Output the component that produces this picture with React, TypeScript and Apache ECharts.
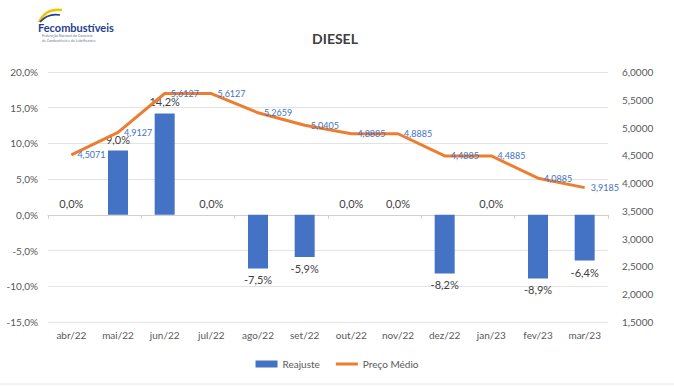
import React, { useEffect, useRef } from "react";
import * as echarts from "echarts";

const categories = ["abr/22", "mai/22", "jun/22", "jul/22", "ago/22", "set/22", "out/22", "nov/22", "dez/22", "jan/23", "fev/23", "mar/23"];
const reajuste = [0.0, 9.0, 14.2, 0.0, -7.5, -5.9, 0.0, 0.0, -8.2, 0.0, -8.9, -6.4];
const precoMedio = [4.5071, 4.9127, 5.6127, 5.6127, 5.2659, 5.0405, 4.8885, 4.8885, 4.4885, 4.4885, 4.0885, 3.9185];

const FONT = "Lato, 'Open Sans', 'Liberation Sans', sans-serif";
const fmtPct = (v: number) => v.toFixed(1).replace(".", ",") + "%";
const fmtPrice = (v: number) => v.toFixed(4).replace(".", ",");

export default function App() {
  const ref = useRef<HTMLDivElement>(null);
  useEffect(() => {
    if (!ref.current) return;
    const chart = echarts.init(ref.current, undefined, { renderer: "svg" });
    chart.setOption({
      animation: false,
      backgroundColor: "#ffffff",
      textStyle: { fontFamily: FONT },
      title: {
        text: "DIESEL",
        left: 330,
        top: 26,
        textAlign: "center",
        textStyle: { fontSize: 14, fontWeight: "bold", color: "#404040", fontFamily: FONT },
      },
      legend: {
        bottom: 12,
        left: "center",
        itemGap: 16,
        itemWidth: 22,
        itemHeight: 7,
        textStyle: { fontSize: 10, color: "#595959", fontFamily: FONT },
        data: [
          { name: "Reajuste", icon: "rect" },
          { name: "Preço Médio", icon: "path://M0,0 L22,0 L22,3 L0,3 Z" },
        ],
      },
      grid: { left: 48, right: 66, top: 72, bottom: 64, containLabel: false, outerBoundsMode: "none" },
      xAxis: [
        {
          type: "category",
          data: categories,
          axisLine: { onZero: true, lineStyle: { color: "#D0D0D0" } },
          axisTick: { show: true, length: 4, lineStyle: { color: "#D0D0D0" } },
          axisLabel: { show: false },
        },
        {
          type: "category",
          data: categories,
          position: "bottom",
          axisLine: { show: false, onZero: false },
          axisTick: { show: false },
          axisLabel: { color: "#595959", fontSize: 10, margin: 8, fontFamily: FONT },
        },
      ],
      yAxis: [
        {
          type: "value",
          min: -15,
          max: 20,
          interval: 5,
          axisLabel: { formatter: (v: number) => fmtPct(v), color: "#595959", fontSize: 10, margin: 10, fontFamily: FONT },
          axisLine: { show: false },
          axisTick: { show: false },
          splitLine: { lineStyle: { color: "#E3E3E3" } },
        },
        {
          type: "value",
          min: 1.5,
          max: 6,
          interval: 0.5,
          axisLabel: { formatter: (v: number) => fmtPrice(v), color: "#595959", fontSize: 10, margin: 14, fontFamily: FONT },
          axisLine: { show: false },
          axisTick: { show: false },
          splitLine: { show: false },
        },
      ],
      series: [
        {
          name: "Reajuste",
          type: "bar",
          xAxisIndex: 0,
          data: reajuste.map((v) => ({ value: v, label: { position: v < 0 ? "bottom" : "top" } })),
          barWidth: 20,
          itemStyle: { color: "#4472C4" },
          label: {
            show: true,
            position: "top",
            distance: 6,
            color: "#404040",
            fontSize: 11,
            fontFamily: FONT,
            formatter: (p: any) => fmtPct(p.value),
          },
        },
        {
          name: "Preço Médio",
          type: "line",
          xAxisIndex: 0,
          yAxisIndex: 1,
          data: precoMedio,
          symbol: "circle",
          symbolSize: 0.1,
          lineStyle: { color: "#ED7D31", width: 3 },
          itemStyle: { color: "#ED7D31" },
          label: {
            show: true,
            position: "right",
            distance: 6,
            color: "#4472C4",
            fontSize: 9,
            fontFamily: FONT,
            formatter: (p: any) => fmtPrice(p.value),
          },
        },
      ],
      graphic: [
        {
          type: "bezierCurve",
          shape: { x1: 39, y1: 22, x2: 62, y2: 10, cpx1: 45, cpy1: 10, cpx2: 55, cpy2: 9 },
          style: { stroke: "#F2C500", lineWidth: 2.5, fill: "none" },
        },
        {
          type: "bezierCurve",
          shape: { x1: 40, y1: 22, x2: 60, y2: 15, cpx1: 46, cpy1: 15, cpx2: 54, cpy2: 14 },
          style: { stroke: "#1F3F8F", lineWidth: 1.5, fill: "none" },
        },
        {
          type: "text",
          x: 38,
          y: 22,
          style: { text: "Fecombustíveis", fill: "#1F3F8F", font: "bold 11px " + FONT },
        },
        {
          type: "text",
          x: 42,
          y: 34,
          style: { text: "Federação Nacional do Comércio", fill: "#6b7a99", font: "3.5px " + FONT },
        },
        {
          type: "text",
          x: 42,
          y: 39,
          style: { text: "de Combustíveis e de Lubrificantes", fill: "#6b7a99", font: "3.5px " + FONT },
        },
        {
          type: "line",
          shape: { x1: 0, y1: 384, x2: 674, y2: 384 },
          style: { stroke: "#E6E6E6", lineWidth: 1 },
        },
      ],
    });
    return () => chart.dispose();
  }, []);
  return <div ref={ref} style={{ position: "fixed", left: 0, top: 0, width: 674, height: 386 }} />;
}
